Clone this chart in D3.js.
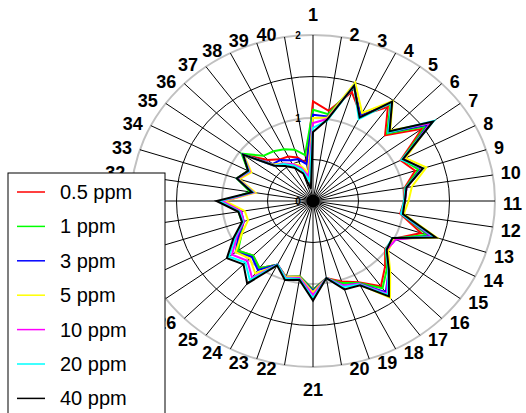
<!DOCTYPE html>
<html>
<head>
<meta charset="utf-8">
<script src="https://cdn.jsdelivr.net/npm/d3@7"></script>
<style>
  body { margin: 0; background: #fff; }
  svg { display: block; font-family: "Liberation Sans", Arial, sans-serif; }
</style>
</head>
<body>
<div id="chart"></div>
<script>
// spokes 1..40
var categories = d3.range(1, 41).map(String);
var seriesNames = ["0.5 ppm", "1 ppm", "3 ppm", "5 ppm", "10 ppm", "20 ppm", "40 ppm"];
var seriesColors = ["#ff0000", "#00ff00", "#0000ff", "#ffff00", "#ff00ff", "#00ffff", "#000000"];
var radialTicks = [0, 1, 2];

// values per spoke
var ppm05 = [1.20,1.10,1.38,1.16,1.40,1.12,1.48,1.08,1.18,1.02,1.00,0.97,1.25,1.00,0.98,1.12,1.27,1.10,1.02,0.94,
             1.07,0.92,0.96,0.86,1.00,0.93,1.02,0.90,0.80,0.82,0.97,0.68,0.88,0.80,0.95,0.70,0.62,0.60,0.55,0.46];
var ppm1  = [1.10,1.06,1.45,1.15,1.45,1.15,1.53,1.10,1.22,1.03,1.01,0.98,1.32,1.00,0.99,1.15,1.30,1.11,1.04,0.94,
             1.07,0.92,0.96,0.86,1.00,0.93,1.02,0.88,0.82,0.83,0.97,0.70,0.88,0.80,0.97,0.77,0.74,0.70,0.65,0.56];
var ppm3  = [1.04,1.03,1.46,1.15,1.47,1.17,1.57,1.12,1.25,1.04,1.01,0.98,1.36,1.02,1.00,1.18,1.36,1.12,1.07,0.94,
             1.08,0.93,0.97,0.86,1.03,0.95,1.05,0.92,0.80,0.80,0.97,0.66,0.87,0.78,0.95,0.63,0.61,0.55,0.53,0.45];
var ppm5  = [1.00,1.02,1.50,1.19,1.49,1.20,1.60,1.14,1.31,1.10,1.05,1.01,1.43,1.00,1.02,1.20,1.44,1.13,1.08,0.94,
             1.10,0.93,0.96,0.87,1.08,0.98,1.05,0.88,0.75,0.76,0.97,0.64,0.85,0.76,0.94,0.62,0.56,0.50,0.45,0.35];
var ppm10 = [0.94,1.00,1.46,1.13,1.47,1.18,1.60,1.11,1.26,1.04,1.01,0.98,1.37,1.02,1.00,1.17,1.38,1.12,1.07,0.94,
             1.13,0.94,0.97,0.86,1.14,1.02,1.10,0.94,0.80,0.80,1.00,0.66,0.87,0.78,0.95,0.60,0.56,0.50,0.42,0.30];
var ppm20 = [0.88,0.98,1.46,1.11,1.47,1.17,1.64,1.09,1.27,1.03,1.00,0.98,1.40,0.98,0.99,1.17,1.40,1.13,1.09,0.94,
             1.17,0.95,0.98,0.86,1.18,1.05,1.14,0.96,0.81,0.82,1.03,0.67,0.88,0.79,0.95,0.60,0.55,0.48,0.40,0.25];
var ppm40 = [0.83,0.99,1.46,1.13,1.48,1.19,1.63,1.11,1.27,1.04,1.01,1.00,1.42,0.98,1.00,1.18,1.42,1.14,1.12,0.94,
             1.20,0.96,1.00,0.87,1.23,1.08,1.17,0.98,0.82,0.83,1.06,0.68,0.88,0.80,0.95,0.60,0.52,0.45,0.35,0.15];

var seriesValues = [ppm05, ppm1, ppm3, ppm5, ppm10, ppm20, ppm40];

var width = 526, height = 413;
var cx = 313, cy = 201;

var svg = d3.select("#chart")
  .append("svg")
  .attr("width", width)
  .attr("height", height);

// plot is a bit wider than tall
var rX = d3.scaleLinear().domain([0, 2]).range([0, 182]);
var rY = d3.scaleLinear().domain([0, 2]).range([0, 166]);
var angle = d3.scaleLinear().domain([0, categories.length]).range([0, 2 * Math.PI]);

function px(i, v) { return cx + rX(v) * Math.sin(angle(i)); }
function py(i, v) { return cy - rY(v) * Math.cos(angle(i)); }

var g = svg.append("g");

// rings
[0.5, 1, 1.5, 2].forEach(function(v) {
  var grey = (v === 1 || v === 2);
  g.append("ellipse")
    .attr("cx", cx).attr("cy", cy)
    .attr("rx", rX(v)).attr("ry", rY(v))
    .attr("fill", "none")
    .attr("stroke", grey ? "#c0c0c0" : "#000")
    .attr("stroke-width", grey ? 2 : 1);
});

// spokes
g.selectAll("line.spoke")
  .data(categories)
  .enter().append("line")
  .attr("class", "spoke")
  .attr("x1", cx).attr("y1", cy)
  .attr("x2", function(d, i) { return px(i, 2); })
  .attr("y2", function(d, i) { return py(i, 2); })
  .attr("stroke", "#000")
  .attr("stroke-width", 1);

g.append("circle")
  .attr("cx", cx).attr("cy", cy).attr("r", 6.5)
  .attr("fill", "#000");

// radial tick labels
g.selectAll("text.rtick")
  .data(radialTicks)
  .enter().append("text")
  .attr("class", "rtick")
  .attr("x", cx - 15)
  .attr("y", function(d) { return cy - rY(d) + 3.5; })
  .attr("text-anchor", "middle")
  .style("font-size", "10px")
  .style("font-weight", "bold")
  .text(function(d) { return d; });

// series
var line = d3.line()
  .x(function(d, i) { return px(i, d); })
  .y(function(d, i) { return py(i, d); })
  .curve(d3.curveLinearClosed);

seriesValues.forEach(function(vals, s) {
  g.append("path")
    .datum(vals)
    .attr("fill", "none")
    .attr("stroke", seriesColors[s])
    .attr("stroke-width", 2)
    .attr("stroke-linejoin", "miter")
    .attr("d", line);
});

// spoke labels: beside the spoke end, centred at top and bottom
function labelAnchor(i) {
  var s = Math.sin(angle(i));
  if (Math.abs(s) < 0.01) return "middle";
  return s > 0 ? "start" : "end";
}
g.selectAll("text.cat")
  .data(categories)
  .enter().append("text")
  .attr("class", "cat")
  .attr("text-anchor", function(d, i) { return labelAnchor(i); })
  .attr("x", function(d, i) {
    var a = labelAnchor(i);
    return px(i, 2) + (a === "start" ? 8 : a === "end" ? -8 : 0);
  })
  .attr("y", function(d, i) {
    var c = Math.cos(angle(i)), y = py(i, 2);
    if (labelAnchor(i) === "middle") return c > 0 ? y - 14 : y + 29;
    var mid = Math.abs(c) < 0.01 ? y + 2 : (c > 0 ? y - 2.5 : y + 4);
    return mid + 6.5;
  })
  .style("font-size", "18px")
  .style("font-weight", "bold")
  .text(function(d) { return d; });

// legend
var legend = svg.append("g").attr("transform", "translate(8,173)");
legend.append("rect")
  .attr("x", 0).attr("y", 0)
  .attr("width", 157).attr("height", 260)
  .attr("fill", "#fff")
  .attr("stroke", "#000")
  .attr("stroke-width", 1);

var item = legend.selectAll("g.item")
  .data(seriesNames)
  .enter().append("g")
  .attr("class", "item")
  .attr("transform", function(d, i) { return "translate(0," + (19 + i * 34.4) + ")"; });

item.append("line")
  .attr("x1", 9).attr("x2", 37)
  .attr("y1", 0).attr("y2", 0)
  .attr("stroke", function(d, i) { return seriesColors[i]; })
  .attr("stroke-width", 1.5);

item.append("text")
  .attr("x", 52)
  .attr("y", 7)
  .style("font-size", "20px")
  .text(function(d) { return d; });
</script>
</body>
</html>
